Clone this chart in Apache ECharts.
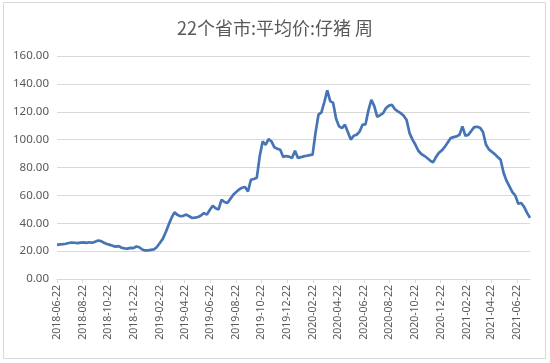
<!DOCTYPE html>
<html><head><meta charset="utf-8">
<script src="https://cdn.jsdelivr.net/npm/echarts@6/dist/echarts.min.js"></script>
<style>html,body{margin:0;padding:0;background:#fff}#c{width:550px;height:363px}</style>
</head><body><div id="c"></div>
<script>
const title = '22个省市:平均价:仔猪 周';
const startDate = [2018, 6, 22]; // first weekly observation (Friday)
const tickLabels = ['2018-06-22','2018-08-22','2018-10-22','2018-12-22','2019-02-22','2019-04-22','2019-06-22','2019-08-22','2019-10-22','2019-12-22','2020-02-22','2020-04-22','2020-06-22','2020-08-22','2020-10-22','2020-12-22','2021-02-22','2021-04-22','2021-06-22'];
const weeklyPrice = [
24.5,24.8,25.0,25.3,25.8,26.2,26.0,25.7,26.1,26.3,
25.9,26.4,26.0,26.8,27.6,27.2,26.0,25.1,24.5,23.8,
23.2,23.6,22.4,22.0,21.8,22.3,22.1,23.3,22.8,21.2,
20.5,20.6,20.9,21.2,23.0,25.8,28.8,33.5,39.0,44.0,
47.8,46.0,45.0,45.3,46.2,45.0,43.8,44.0,44.5,45.5,
47.3,46.2,49.5,52.6,50.8,49.9,56.9,55.2,54.5,57.5,
60.5,62.4,64.2,65.5,66.0,62.8,71.2,71.8,72.6,88.0,
98.7,96.3,100.4,98.7,94.5,93.5,92.8,87.6,88.2,87.8,
86.8,92.0,86.9,87.4,88.0,88.4,88.9,89.2,105.0,117.9,
119.5,127.0,135.3,127.6,126.3,115.0,109.5,108.3,110.7,105.5,
100.0,102.8,103.5,105.8,110.7,110.9,121.0,128.6,124.0,116.4,
117.6,119.0,122.7,124.4,125.0,121.8,120.3,119.0,117.2,114.0,
104.7,100.0,96.3,92.0,89.7,88.4,86.8,85.0,83.6,87.5,
90.6,92.3,94.8,98.0,101.1,101.8,102.3,103.5,109.5,102.8,
103.4,106.2,109.0,109.2,108.5,105.5,96.5,93.0,91.3,89.6,
87.5,85.6,76.2,70.5,66.4,62.3,59.8,54.0,54.5,51.8,
47.5,43.8];

const DAY = 86400000;
const t0 = Date.UTC(startDate[0], startDate[1]-1, startDate[2]);
function dayOf(s){const p=s.split('-').map(Number);return Math.round((Date.UTC(p[0],p[1]-1,p[2])-t0)/DAY);}
function fmt(v){const d=new Date(t0+Math.round(v)*DAY);const m=d.getUTCMonth()+1, dd=d.getUTCDate();return d.getUTCFullYear()+'-'+(m<10?'0':'')+m+'-'+(dd<10?'0':'')+dd;}
const seriesData = weeklyPrice.map((v,i)=>[i*7, v]);
const tickDays = tickLabels.map(dayOf);

const chart = echarts.init(document.getElementById('c'), null, {renderer:'canvas'});
chart.setOption({
  animation:false,
  backgroundColor:'#fff',
  graphic:[{type:'rect',shape:{x:3.5,y:2.5,width:542,height:356},style:{fill:'none',stroke:'#d9d9d9',lineWidth:1},silent:true}],
  title:{text:title,left:'center',top:14,textStyle:{fontFamily:'Noto Sans CJK SC',fontSize:18,fontWeight:'normal',color:'#595959'}},
  grid:{left:57,right:20,top:56,bottom:84,containLabel:false},
  xAxis:{type:'value',min:0,max:seriesData[seriesData.length-1][0],
    axisLine:{show:true,onZero:false,lineStyle:{color:'#d9d9d9',width:1}},
    axisTick:{show:true,length:4,lineStyle:{color:'#d9d9d9'},customValues:tickDays},
    axisLabel:{rotate:90,customValues:tickDays,formatter:fmt,color:'#595959',fontSize:10.5,fontFamily:'Noto Sans',margin:6,hideOverlap:false},
    splitLine:{show:false}},
  yAxis:{type:'value',min:0,max:160,interval:20,
    axisLine:{show:false},axisTick:{show:false},
    axisLabel:{formatter:v=>v.toFixed(2),color:'#595959',fontSize:11.5,fontFamily:'Noto Sans',margin:8},
    splitLine:{lineStyle:{color:'#d9d9d9',width:1}}},
  series:[{type:'line',data:seriesData,showSymbol:false,symbol:'none',lineStyle:{color:'#4674B4',width:2.7},itemStyle:{color:'#4674B4'}}]
});
</script></body></html>
